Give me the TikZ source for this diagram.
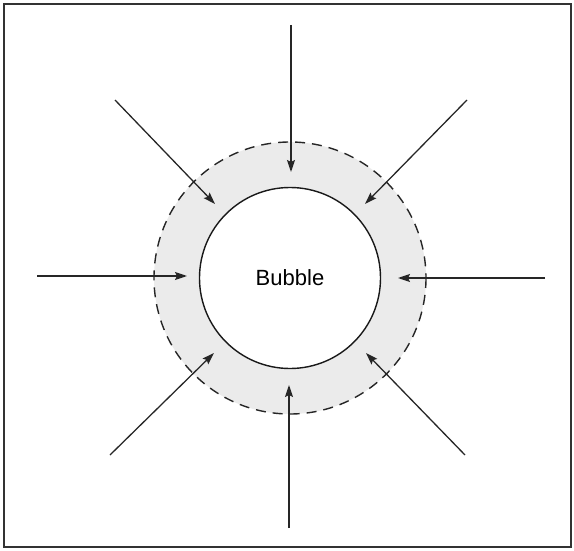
\documentclass[tikz,border=0pt]{standalone}
\usepackage{fontspec}
\setmainfont{Liberation Sans}
\usetikzlibrary{arrows.meta}
\begin{document}
\begin{tikzpicture}[x=1pt,y=-1pt,
  inflow/.style={draw=black!85, line width=1.3pt, -{Stealth[length=12pt,width=8pt,inset=2pt]}},
  frameline/.style={draw=black!80, line width=1.8pt},
  innercircle/.style={circle, draw=black!90, line width=1.4pt, fill=white, minimum size=181pt, inner sep=0pt},
  outerdash/.style={draw=black!85, line width=1.4pt, dash pattern=on 10pt off 7pt, fill=black!8}]
\useasboundingbox (0,0) rectangle (574,551);
\draw[frameline] (4,4) rectangle (571,547);
\coordinate (c) at (290,278);
\draw[outerdash] (c) circle[radius=136];
\node[innercircle, font=\fontsize{22}{26}\selectfont] (bub) at (c) {Bubble};
% starts
\coordinate (sN) at (291,25);
\coordinate (sS) at (289,528);
\coordinate (sW) at (37,276);
\coordinate (sE) at (545,278);
\coordinate (sNW) at (115,100);
\coordinate (sNE) at (467,100);
\coordinate (sSW) at (110,455);
\coordinate (sSE) at (465,455);
% tips
\coordinate (tN) at (291,172);
\coordinate (tS) at (289,385);
\coordinate (tW) at (187,276);
\coordinate (tE) at (398,278);
\coordinate (tNW) at (215,204);
\coordinate (tNE) at (365,204);
\coordinate (tSW) at (214,353);
\coordinate (tSE) at (366,353);
\foreach \d in {N,S,W,E,NW,NE,SW,SE}{
  \draw[inflow] (s\d) -- (t\d);
}
\end{tikzpicture}
\end{document}
